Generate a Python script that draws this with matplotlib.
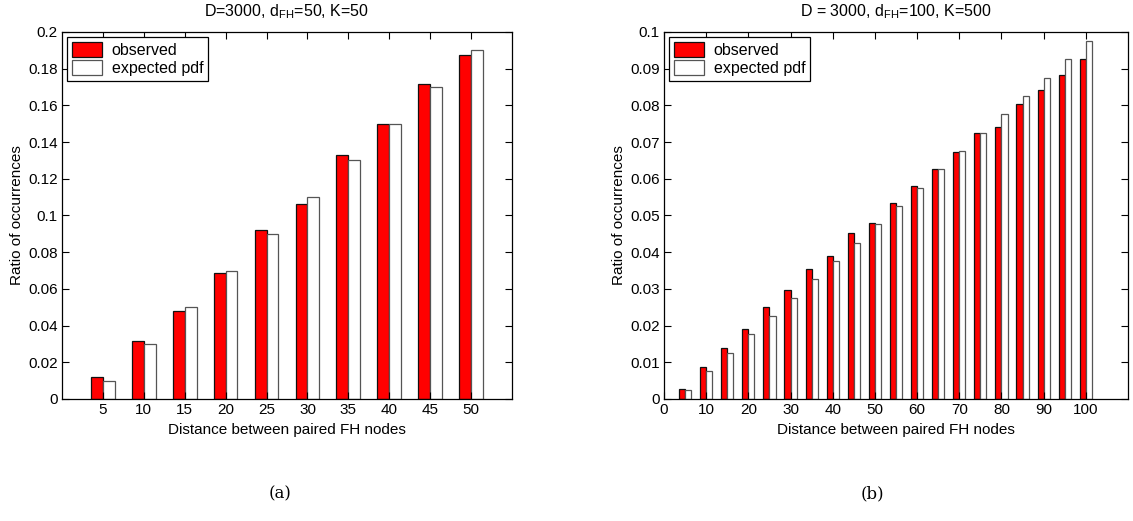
import numpy as np
import matplotlib.pyplot as plt

plt.rcParams['font.family'] = ['Liberation Sans', 'DejaVu Sans']
plt.rcParams['mathtext.fontset'] = 'custom'
plt.rcParams['mathtext.rm'] = 'Liberation Sans'
plt.rcParams['mathtext.it'] = 'Liberation Sans'

# panel (a)
jarak_a = [5, 10, 15, 20, 25, 30, 35, 40, 45, 50]
obs_a = [0.0120, 0.0315, 0.0477, 0.0688, 0.0919, 0.1063, 0.1327, 0.1500, 0.1716, 0.1874]
exp_a = [0.010, 0.030, 0.050, 0.070, 0.090, 0.110, 0.130, 0.150, 0.170, 0.190]

# panel (b)
jarak_b = [5, 10, 15, 20, 25, 30, 35, 40, 45, 50, 55, 60, 65, 70, 75, 80, 85, 90, 95, 100]
obs_b = [0.0028, 0.0086, 0.0140, 0.0192, 0.0252, 0.0297, 0.0354, 0.0391, 0.0451, 0.0480,
         0.0535, 0.0581, 0.0627, 0.0672, 0.0725, 0.0741, 0.0804, 0.0842, 0.0883, 0.0926]
exp_b = [0.0025, 0.0076, 0.0126, 0.0176, 0.0226, 0.0276, 0.0326, 0.0376, 0.0426, 0.0476,
         0.0526, 0.0576, 0.0626, 0.0676, 0.0726, 0.0776, 0.0826, 0.0876, 0.0926, 0.0976]

W, H = 1133, 521
fig = plt.figure(figsize=(W / 100, H / 100), dpi=100)
ax1 = fig.add_axes([62 / W, (H - 399) / H, 450 / W, 367 / H])
ax2 = fig.add_axes([664 / W, (H - 399) / H, 464 / W, 367 / H])


def gambar(ax, x, obs, exp, lebar, judul, xlim, ylim, yticks, xticks):
    x = np.array(x, dtype=float)
    ax.bar(x - lebar / 2, obs, width=lebar, color='#ff0000', edgecolor='#111111',
           linewidth=0.9, label='observed')
    ax.bar(x + lebar / 2, exp, width=lebar, color='white', edgecolor='#555555',
           linewidth=0.9, label='expected pdf')
    ax.set_xlim(*xlim)
    ax.set_ylim(*ylim)
    ax.set_xticks(xticks)
    ax.set_yticks(yticks)
    ax.set_yticklabels([('%g' % t) for t in yticks])
    ax.tick_params(direction='in', top=True, right=True, length=5, labelsize=11, width=0.8, pad=3)
    ax.set_xlabel('Distance between paired FH nodes', fontsize=11, labelpad=4)
    ax.set_ylabel('Ratio of occurrences', fontsize=11, labelpad=3)
    ax.set_title(judul, fontsize=11.5, pad=11)
    for s in ax.spines.values():
        s.set_linewidth(0.9)
    leg = ax.legend(loc='upper left', fontsize=11.5, fancybox=False, framealpha=1,
                    edgecolor='black', borderpad=0.3, handlelength=1.9, handleheight=1.15,
                    borderaxespad=0.3, labelspacing=0.1, handletextpad=0.6)
    leg._legend_box.sep = 4
    leg.get_frame().set_linewidth(0.9)


gambar(ax1, jarak_a, obs_a, exp_a, 1.45, 'D=3000, d$_{FH}$=50, K=50',
       (0, 55), (0, 0.2), np.arange(0, 0.201, 0.02), jarak_a)
gambar(ax2, jarak_b, obs_b, exp_b, 1.45, 'D = 3000, d$_{FH}$=100, K=500',
       (0, 110), (0, 0.1), np.arange(0, 0.101, 0.01), np.arange(0, 101, 10))

fig.text(280 / W, 1 - 494 / H, '(a)', family='DejaVu Serif', fontsize=12, ha='center', va='center')
fig.text(872 / W, 1 - 494 / H, '(b)', family='DejaVu Serif', fontsize=12, ha='center', va='center')

fig.savefig('out.png', dpi=100)
